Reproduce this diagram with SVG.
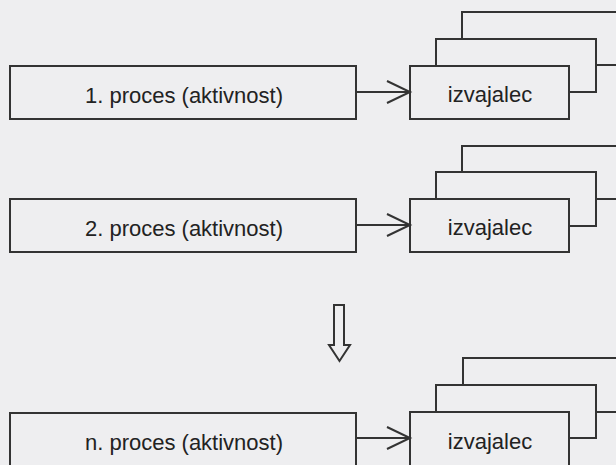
<svg xmlns="http://www.w3.org/2000/svg" width="616" height="465" viewBox="0 0 616 465">
<defs>
<style>
.bx{fill:#eeeef0;stroke:#333;stroke-width:2}
.ln{fill:none;stroke:#333;stroke-width:2}
.t{font-family:"Liberation Sans",Arial,sans-serif;font-size:22px;fill:#222;text-anchor:middle}
</style>
<marker id="open" markerUnits="userSpaceOnUse" markerWidth="30" markerHeight="30" refX="24" refY="12" orient="auto" viewBox="0 0 30 24">
<path d="M1,1 L24,12 L1,23" fill="none" stroke="#333" stroke-width="2"/>
</marker>
</defs>
<rect width="616" height="465" fill="#eeeef0"/>
<g id="proc1"><rect class="bx" x="10" y="66" width="346" height="53"/><text class="t" x="184" y="103">1. proces (aktivnost)</text></g>
<g id="izv1">
<rect class="bx" x="462" y="12" width="170" height="53"/>
<rect class="bx" x="436" y="39" width="160" height="53"/>
<rect class="bx" x="410" y="66" width="159" height="53"/>
<text class="t" x="490" y="102">izvajalec</text></g>
<g id="proc2"><rect class="bx" x="10" y="199" width="346" height="53"/><text class="t" x="184" y="236">2. proces (aktivnost)</text></g>
<g id="izv2">
<rect class="bx" x="462" y="146" width="170" height="53"/>
<rect class="bx" x="436" y="172" width="160" height="54"/>
<rect class="bx" x="410" y="199" width="159" height="53"/>
<text class="t" x="490" y="235">izvajalec</text></g>
<g id="procn"><rect class="bx" x="10" y="413" width="346" height="60"/><text class="t" x="184" y="450">n. proces (aktivnost)</text></g>
<g id="izvn">
<rect class="bx" x="463" y="358" width="170" height="54"/>
<rect class="bx" x="436" y="385" width="160" height="53"/>
<rect class="bx" x="410" y="412" width="159" height="60"/>
<text class="t" x="490" y="449">izvajalec</text></g>
<g id="connectors">
<line class="ln" x1="356" y1="92" x2="410" y2="92" marker-end="url(#open)"/>
<line class="ln" x1="356" y1="225" x2="410" y2="225" marker-end="url(#open)"/>
<line class="ln" x1="356" y1="438" x2="410" y2="438" marker-end="url(#open)"/>
<path class="bx" d="M334,305 L344,305 L344,345 L350,345 L339.5,361 L329,345 L334,345 Z"/>
</g>
</svg>
